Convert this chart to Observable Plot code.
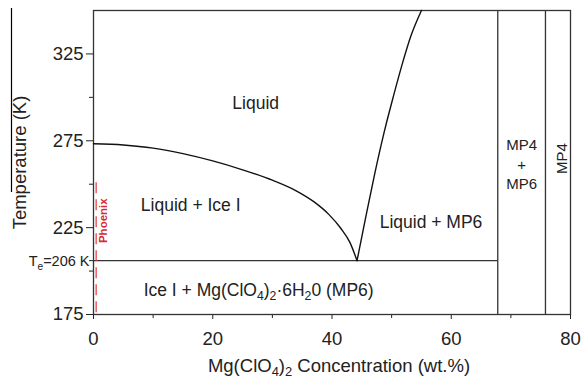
<!DOCTYPE html>
<html>
<head>
<meta charset="utf-8">
<script src="https://cdn.jsdelivr.net/npm/d3@7"></script>
<script src="https://cdn.jsdelivr.net/npm/@observablehq/plot@0.6"></script>
<style>
  html, body { margin: 0; padding: 0; background: #fff; }
  #chart { width: 582px; height: 380px; }
</style>
</head>
<body>
<div id="chart"></div>
<script>
// ---- data ----
const xMajorTicks = [0, 20, 40, 60, 80];
const xMinorTicks = [10, 30, 50, 70];
const yMajorTicks = [175, 225, 275, 325];
const yMinorTicks = [200, 206, 250, 300];

// Ice I liquidus (wt.% , K)
const iceConc = [0, 5, 10, 15, 20, 25, 30, 34, 37, 39.5, 41.5, 43, 44.2];
const iceTemp = [273.3, 272.6, 270.8, 267.6, 263.4, 258.3, 252.3, 246.2, 239.8, 232.5, 224.5, 216.5, 206];
// MP6 liquidus
const mp6Conc = [44.2, 45.6, 47.1, 48.75, 50.25, 51.85, 53.2, 55.0];
const mp6Temp = [206, 230, 255, 280, 300, 320, 335, 350];

const eutecticT = 206;
const eutecticEnd = 67.8;
const phaseBoundaries = [67.8, 75.8];
const phoenixConc = 0.45;
const phoenixRange = [176, 252];

const regionLabels = ["Liquid", "Liquid + Ice I", "Liquid + MP6", "Ice I + Mg(ClO_{4})_{2}·6H_{2}0 (MP6)", "MP4\n+\nMP6"];
const regionConc   = [27.2, 16.3, 56.6, 27.7, 71.8];
const regionTemp   = [296.3, 237.6, 228, 188.8, 261.8];

const iceCurve = iceConc.map((c, i) => ({c, t: iceTemp[i]}));
const mp6Curve = mp6Conc.map((c, i) => ({c, t: mp6Temp[i]}));
const regions = regionLabels.map((label, i) => ({label, c: regionConc[i], t: regionTemp[i]}));

const ink = "#222";
const red = "#e0434f";

const chart = Plot.plot({
  width: 582,
  height: 380,
  marginLeft: 93,
  marginRight: 12,
  marginTop: 10,
  marginBottom: 66,
  style: {fontFamily: "'Liberation Sans', Arial, sans-serif", fontSize: "18.5px", color: ink, background: "#fff"},
  x: {domain: [0, 80]},
  y: {domain: [175, 350]},
  marks: [
    Plot.axisX(xMajorTicks, {tickSize: 5, tickPadding: 12, label: null, stroke: ink, fill: ink}),
    Plot.axisX(xMinorTicks, {tickSize: 4, text: null, label: null, stroke: ink}),
    Plot.axisY(yMajorTicks, {tickSize: 7, tickPadding: 3, label: null, stroke: ink, fill: ink}),
    Plot.axisY(yMinorTicks, {tickSize: 4, text: null, label: null, stroke: ink}),
    Plot.frame({stroke: "#333", strokeWidth: 1.3}),
    Plot.ruleY([eutecticT], {x1: 0, x2: eutecticEnd, stroke: "#333", strokeWidth: 1.3}),
    Plot.ruleX(phaseBoundaries, {stroke: "#333", strokeWidth: 1.3}),
    Plot.line(iceCurve, {x: "c", y: "t", curve: "monotone-x", stroke: "#111", strokeWidth: 1.4}),
    Plot.line(mp6Curve, {x: "c", y: "t", curve: "monotone-x", stroke: "#111", strokeWidth: 1.4}),
    Plot.ruleX([phoenixConc], {y1: phoenixRange[0], y2: phoenixRange[1], stroke: red, strokeWidth: 1.5, strokeDasharray: "11,6", strokeOpacity: 0.85}),
    Plot.text(["Phoenix"], {x: 1.7, y: 229, rotate: -90, fill: "#d42a35", fontWeight: "bold", fontSize: 11.5}),
    Plot.text(regions.slice(0, 4), {x: "c", y: "t", text: "label", fontSize: 17.5, fill: ink}),
    Plot.text(regions.slice(4), {x: "c", y: "t", text: "label", fontSize: 15, lineHeight: 1.3, fill: ink}),
    Plot.text(["MP4"], {x: 78.6, y: 264.7, rotate: -90, fontSize: 15, fill: ink}),
    Plot.text(["T_{e}=206 K"], {x: 0, y: eutecticT, textAnchor: "end", dx: -4, dy: 1, fontSize: 14.5, fill: ink}),
    Plot.text(["Mg(ClO_{4})_{2} Concentration (wt.%)"], {frameAnchor: "bottom", lineAnchor: "middle", textAnchor: "middle", dx: 7, dy: 51.5, fontSize: 18.5, fill: ink}),
    Plot.text(["Temperature (K)"], {frameAnchor: "left", textAnchor: "middle", lineAnchor: "middle", dx: -73, rotate: -90, fontSize: 18.5, fill: ink})
  ]
});

document.getElementById("chart").appendChild(chart);

// subscripts: convert "_{x}" into tspans
d3.select(chart).selectAll("text").each(function() {
  const el = this;
  if (el.querySelector("tspan")) return;
  const s = el.textContent;
  if (!s.includes("_{")) return;
  const fs = parseFloat(getComputedStyle(el).fontSize) || 16;
  const shift = fs * 0.24;
  el.textContent = "";
  const parts = s.split(/(_\{[^}]*\})/);
  let shifted = false;
  for (const p of parts) {
    if (!p) continue;
    const t = document.createElementNS("http://www.w3.org/2000/svg", "tspan");
    if (p.startsWith("_{")) {
      t.textContent = p.slice(2, -1);
      t.setAttribute("font-size", (fs * 0.7) + "px");
      if (!shifted) { t.setAttribute("dy", shift); shifted = true; }
    } else {
      t.textContent = p;
      if (shifted) { t.setAttribute("dy", -shift); shifted = false; }
    }
    el.appendChild(t);
  }
});

// stray vertical stroke at top-left of the reference figure
d3.select(chart).append("line")
  .attr("x1", 11.5).attr("x2", 11.5).attr("y1", 8).attr("y2", 192)
  .attr("stroke", "#000").attr("stroke-width", 1.2);
</script>
</body>
</html>
